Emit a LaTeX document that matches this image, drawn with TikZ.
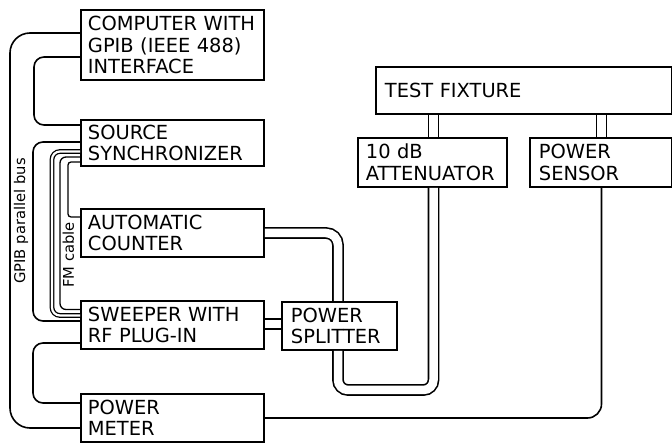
\documentclass[tikz,border=0pt]{standalone}
\usepackage{fontspec}
\setmainfont{DejaVu Sans}
\tikzset{
  equipo/.style={draw, line width=1.9bp, anchor=north west, align=left,
    inner xsep=7bp, inner ysep=0bp, font=\fontsize{19.5}{21.5}\selectfont},
  cable/.style={line width=1.6bp, rounded corners=10bp},
  coax/.style={cable, double, double distance=8.5bp},
  fmcoax/.style={cable, double, double distance=2.2bp, line width=1.3bp, rounded corners=8bp},
  rotulo/.style={rotate=90, inner sep=0bp, font=\fontsize{14.8}{16}\selectfont},
}

\begin{document}
\begin{tikzpicture}[x=10bp, y=10bp]

  \useasboundingbox (0,0) rectangle (67.2,44.3);

  % Equipos, columna izquierda
  \node[equipo, text width=169bp, minimum height=70bp] (comp) at (8.0,43.4)
    {COMPUTER WITH\\GPIB (IEEE 488)\\INTERFACE};
  \node[equipo, text width=169bp, minimum height=46bp] (sync) at (8.0,32.4)
    {SOURCE\\SYNCHRONIZER};
  \node[equipo, text width=169bp, minimum height=48bp] (cont) at (8.0,23.5)
    {AUTOMATIC\\COUNTER};
  \node[equipo, text width=169bp, minimum height=48bp] (sweep) at (8.0,14.3)
    {SWEEPER WITH\\RF PLUG-IN};
  \node[equipo, text width=169bp, minimum height=48bp] (meter) at (8.0,5.0)
    {POWER\\METER};

  % Equipos, lado derecho
  \node[equipo, inner xsep=9bp, text width=278bp, minimum height=47bp] (fixture) at (37.5,37.7)
    {TEST FIXTURE};
  \node[equipo, inner xsep=8bp, text width=133bp, minimum height=49bp] (atten) at (35.7,30.6)
    {10 dB\\ATTENUATOR};
  \node[equipo, inner xsep=9bp, text width=124bp, minimum height=49bp] (sensor) at (52.9,30.6)
    {POWER\\SENSOR};
  \node[equipo, inner xsep=9bp, text width=97bp, minimum height=48bp] (split) at (28.1,14.2)
    {POWER\\SPLITTER};

  %-------------------------------------
  % BUS GPIB
  %-------------------------------------
  \def\xbus{1.0}
  \draw[cable, rounded corners=20bp] (comp.west |- 0,41.0) -- (\xbus,41.0)
    -- (\xbus,1.5) -- (meter.west |- 0,1.5);
  \node[rotulo] (gpib) at (2.1,22.2) {GPIB parallel bus};

  \draw[cable] (comp.west |- 0,38.6) -- (3.4,38.6) -- (3.4,31.8) -- (sync.west |- 0,31.8);
  \draw[cable] (sync.west |- 0,30.1) -- (3.3,30.1) -- (3.3,12.2) -- (sweep.west |- 0,12.2);
  \draw[cable] (sweep.west |- 0,10.0) -- (3.3,10.0) -- (3.3,4.0) -- (meter.west |- 0,4.0);

  %-------------------------------------
  % CABLE FM
  %-------------------------------------
  \draw[fmcoax] (sync.west |- 0,29.15) -- (5.2,29.15) -- (5.2,12.75) -- (sweep.west |- 0,12.75);
  \draw[cable, line width=1.3bp, rounded corners=6bp] (sync.west |- 0,28.6) -- (6.0,28.6)
    -- (6.0,13.35) -- (sweep.west |- 0,13.35);
  \draw[cable, line width=1.3bp, rounded corners=3bp] (sync.west |- 0,28.1) -- (6.8,28.1)
    -- (6.8,22.6) -- (cont.west |- 0,22.6);
  \node[rotulo] (fm) at (6.85,18.8) {FM cable};

  %-------------------------------------
  % COAXIALES RF
  %-------------------------------------
  \def\xsplit{33.8}
  \def\xatt{43.35}
  \def\xsens{60.15}
  \draw[coax, rounded corners=12bp] (cont.east |- 0,21.0) -- (\xsplit,21.0) -- (\xsplit,0 |- split.north);
  \draw[coax] (sweep.east |- 0,11.9) -- (split.west |- 0,11.9);
  \draw[coax] (\xsplit,0 |- split.south) -- (\xsplit,5.3) -- (\xatt,5.3) -- (\xatt,0 |- atten.south);
  \draw[coax] (\xatt,0 |- atten.north) -- (\xatt,0 |- fixture.south);
  \draw[coax] (\xsens,0 |- sensor.north) -- (\xsens,0 |- fixture.south);

  % Sensor al medidor
  \draw[cable, rounded corners=14bp] (\xsens,0 |- sensor.south) -- (\xsens,2.5) -- (meter.east |- 0,2.5);

\end{tikzpicture}
\end{document}
